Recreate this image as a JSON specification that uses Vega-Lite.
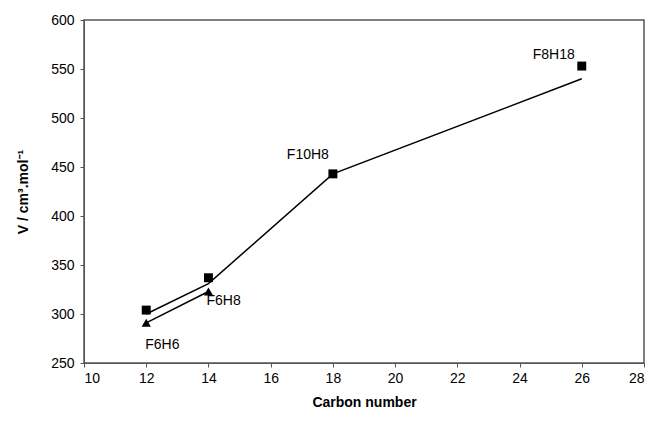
{
  "$schema": "https://vega.github.io/schema/vega-lite/v6.json",
  "width": 560,
  "height": 343,
  "autosize": {"type": "none"},
  "padding": {"left": 84, "top": 20, "right": 8, "bottom": 64},
  "background": "white",
  "config": {
    "font": "Liberation Sans",
    "view": {"stroke": "#555555", "strokeWidth": 1.5},
    "axis": {
      "grid": false,
      "domainColor": "#555555",
      "tickColor": "#555555",
      "labelColor": "black",
      "titleColor": "black",
      "labelFontSize": 14,
      "titleFontSize": 14,
      "titleFontWeight": "bold",
      "tickSize": 4,
      "labelFont": "Liberation Sans",
      "titleFont": "Liberation Sans"
    }
  },
  "datasets": {
    "pts": [
      {"carbon": 12, "V": 304, "kind": "square", "label": "F6H6"},
      {"carbon": 14, "V": 337, "kind": "square", "label": "F6H8"},
      {"carbon": 18, "V": 443, "kind": "square", "label": "F10H8"},
      {"carbon": 26, "V": 553, "kind": "square", "label": "F8H18"},
      {"carbon": 12, "V": 291, "kind": "triangle", "label": "F6H6"},
      {"carbon": 14, "V": 323, "kind": "triangle", "label": "F6H8"}
    ],
    "lines": [
      {"carbon": 12, "V": 300, "series": "fit"},
      {"carbon": 14, "V": 331, "series": "fit"},
      {"carbon": 18, "V": 443, "series": "fit"},
      {"carbon": 26, "V": 540, "series": "fit"},
      {"carbon": 12, "V": 291, "series": "tri"},
      {"carbon": 14, "V": 323, "series": "tri"}
    ]
  },
  "layer": [
    {
      "data": {"name": "lines"},
      "mark": {"type": "line", "color": "black", "strokeWidth": 1.5},
      "encoding": {
        "x": {"field": "carbon", "type": "quantitative", "scale": {"domain": [10, 28]}, "axis": {"values": [10, 12, 14, 16, 18, 20, 22, 24, 26, 28], "title": "Carbon number", "titlePadding": 10, "labelPadding": 4}},
        "y": {"field": "V", "type": "quantitative", "scale": {"domain": [250, 600]}, "axis": {"values": [250, 300, 350, 400, 450, 500, 550, 600], "title": "V / cm³.mol⁻¹", "titlePadding": 20, "labelPadding": 6}},
        "detail": {"field": "series"}
      }
    },
    {
      "data": {"name": "pts"},
      "transform": [{"filter": "datum.kind === 'square'"}],
      "mark": {"type": "point", "shape": "square", "filled": true, "color": "black", "size": 80, "opacity": 1},
      "encoding": {
        "x": {"field": "carbon", "type": "quantitative"},
        "y": {"field": "V", "type": "quantitative"}
      }
    },
    {
      "data": {"name": "pts"},
      "transform": [{"filter": "datum.kind === 'triangle'"}],
      "mark": {"type": "point", "shape": "triangle-up", "filled": true, "color": "black", "size": 85, "opacity": 1},
      "encoding": {
        "x": {"field": "carbon", "type": "quantitative"},
        "y": {"field": "V", "type": "quantitative"}
      }
    },
    {
      "data": {"name": "pts"},
      "transform": [{"filter": "datum.kind === 'triangle' && datum.label === 'F6H6'"}],
      "mark": {"type": "text", "align": "left", "baseline": "middle", "dx": -1, "dy": 22, "fontSize": 14, "color": "black"},
      "encoding": {
        "x": {"field": "carbon", "type": "quantitative"},
        "y": {"field": "V", "type": "quantitative"},
        "text": {"field": "label"}
      }
    },
    {
      "data": {"name": "pts"},
      "transform": [{"filter": "datum.kind === 'triangle' && datum.label === 'F6H8'"}],
      "mark": {"type": "text", "align": "left", "baseline": "middle", "dx": -2, "dy": 10, "fontSize": 14, "color": "black"},
      "encoding": {
        "x": {"field": "carbon", "type": "quantitative"},
        "y": {"field": "V", "type": "quantitative"},
        "text": {"field": "label"}
      }
    },
    {
      "data": {"name": "pts"},
      "transform": [{"filter": "datum.kind === 'square' && (datum.label === 'F10H8')"}],
      "mark": {"type": "text", "align": "right", "baseline": "middle", "dx": -4, "dy": -19, "fontSize": 14, "color": "black"},
      "encoding": {
        "x": {"field": "carbon", "type": "quantitative"},
        "y": {"field": "V", "type": "quantitative"},
        "text": {"field": "label"}
      }
    },
    {
      "data": {"name": "pts"},
      "transform": [{"filter": "datum.kind === 'square' && (datum.label === 'F8H18')"}],
      "mark": {"type": "text", "align": "right", "baseline": "middle", "dx": -7, "dy": -11, "fontSize": 14, "color": "black"},
      "encoding": {
        "x": {"field": "carbon", "type": "quantitative"},
        "y": {"field": "V", "type": "quantitative"},
        "text": {"field": "label"}
      }
    }
  ]
}
